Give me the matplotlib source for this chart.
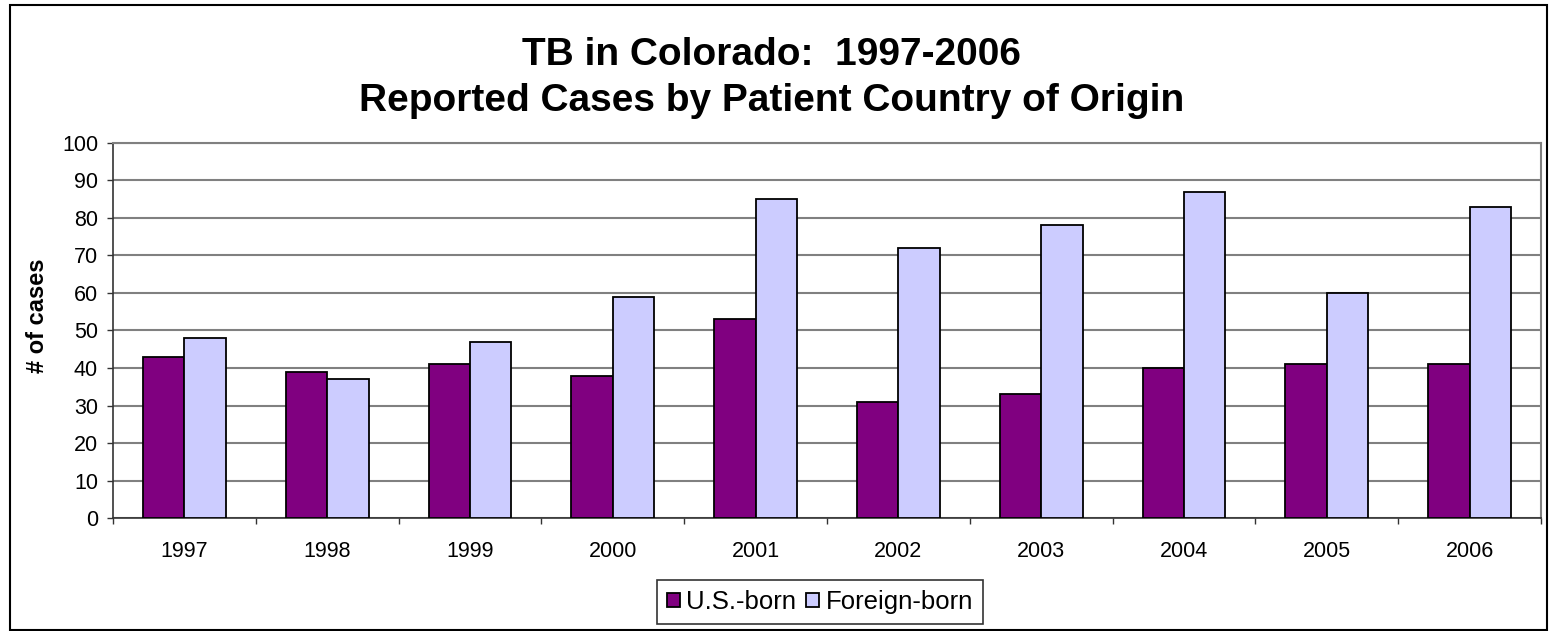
from matplotlib import pyplot as plt
from matplotlib.patches import Rectangle
import numpy as np

years = ['1997', '1998', '1999', '2000', '2001', '2002', '2003', '2004', '2005', '2006']
us_born = [43, 39, 41, 38, 53, 31, 33, 40, 41, 41]
foreign_born = [48, 37, 47, 59, 85, 72, 78, 87, 60, 83]
y_ticks = list(range(0, 101, 10))

plt.rcParams['font.family'] = ['Liberation Sans', 'DejaVu Sans']


def main():
    figure = plt.figure(figsize=(15.49, 6.31), dpi=100)
    ax = figure.add_axes([113 / 1549, 1 - 518.3 / 631, 1428 / 1549, 375.6 / 631])

    x = np.arange(len(years))
    width = 0.29
    ax.bar(x - width / 2, us_born, width, color='#800080', edgecolor='black', linewidth=1.3,
           label='U.S.-born', zorder=3)
    ax.bar(x + width / 2, foreign_born, width, color='#CCCCFF', edgecolor='black', linewidth=1.3,
           label='Foreign-born', zorder=3)

    ax.set_xlim(-0.5, len(years) - 0.5)
    ax.set_ylim(0, 100)
    ax.set_yticks(y_ticks)
    ax.set_xticks(x, labels=years)
    ax.set_xticks(np.arange(-0.5, len(years), 1), minor=True)
    ax.tick_params(axis='x', which='major', length=0, pad=16, labelsize=15.5)
    ax.tick_params(axis='x', which='minor', length=4, width=1, color='#333333', direction='out')
    ax.tick_params(axis='y', length=4.3, width=1, color='#333333', pad=6.5, labelsize=15.5)

    ax.grid(axis='y', color='#808080', linewidth=1.5, zorder=0)
    ax.set_axisbelow(True)
    for side in ('left', 'bottom'):
        ax.spines[side].set_color('#333333')
        ax.spines[side].set_linewidth(1.2)
    for side in ('top', 'right'):
        ax.spines[side].set_color('#808080')
        ax.spines[side].set_linewidth(1.5)

    figure.text(37 / 1549, 1 - 316 / 631, '# of cases', rotation=90, ha='center', va='center',
                fontsize=17, fontweight='bold')
    figure.text(0.498, 1 - 78 / 631, 'TB in Colorado:  1997-2006\nReported Cases by Patient Country of Origin',
                ha='center', va='center', fontsize=28, fontweight='bold', linespacing=1.37)

    legend = figure.legend(loc='center', bbox_to_anchor=(820 / 1549, 1 - 602 / 631), ncol=2,
                           fontsize=18.5, frameon=True, fancybox=False, edgecolor='black',
                           handlelength=0.5, handleheight=0.5, handletextpad=0.25,
                           columnspacing=0.4, borderpad=0.4, borderaxespad=0)
    legend.get_frame().set_linewidth(1.2)

    figure.add_artist(Rectangle((10 / 1549, 1 / 631), 1537 / 1549, 625 / 631,
                                transform=figure.transFigure, fill=False,
                                edgecolor='black', linewidth=1.5))

    figure.savefig('out.png', dpi=100)


if __name__ == '__main__':
    main()
